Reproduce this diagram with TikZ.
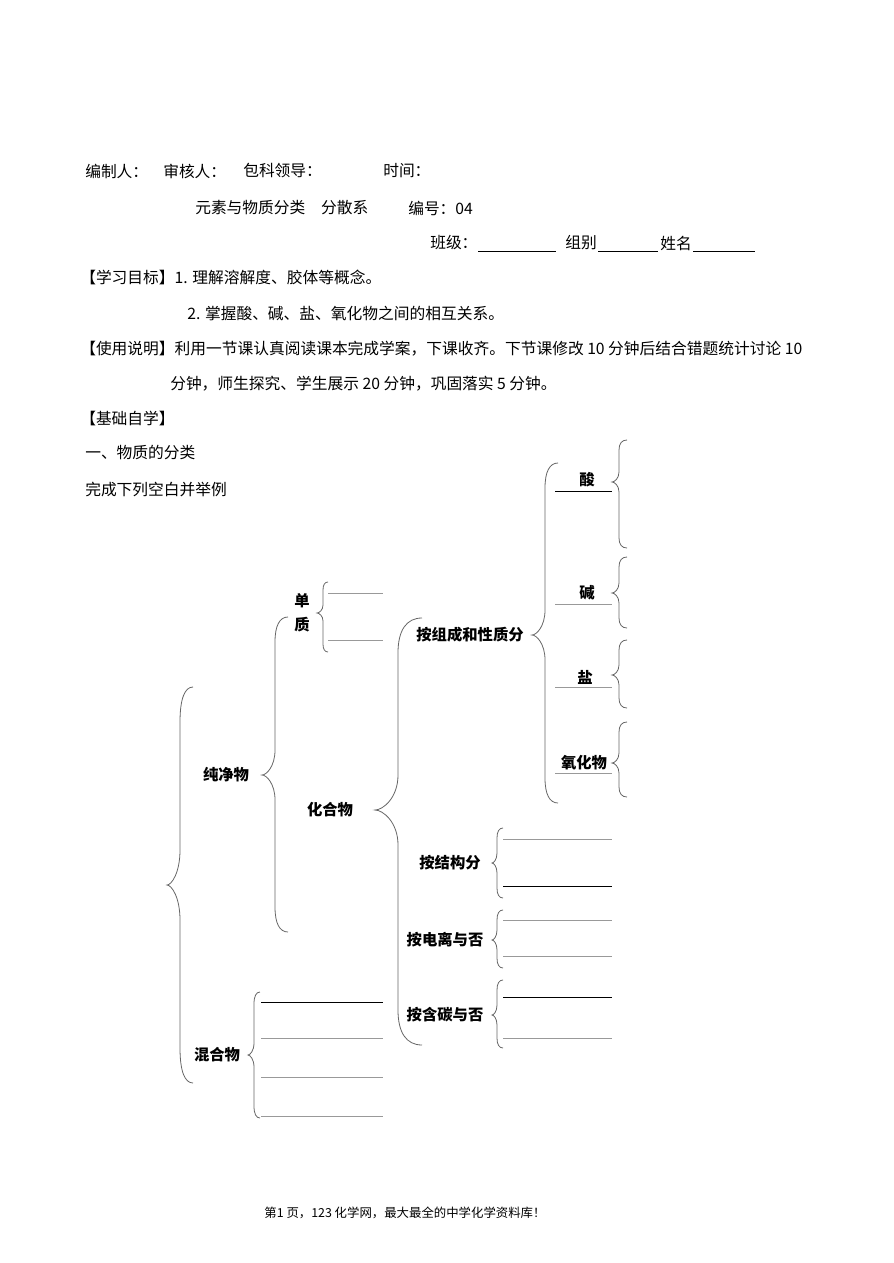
\documentclass[tikz,border=0pt]{standalone}
\usepackage{fontspec}
\setmainfont{Noto Sans CJK SC}
\newcommand\curlyb[7]{%
  \draw[brc] (#1,#4) .. controls ({#2+0.35*(#1-#2)},#4) and (#2,{#4+0.35*#7}) .. (#2,{#4+#7})
    -- (#2,{#5-#7}) .. controls (#2,{#5-0.35*#7}) and ({#3+0.35*(#2-#3)},#5) .. (#3,#5)
    .. controls ({#3+0.35*(#2-#3)},#5) and (#2,{#5+0.35*#7}) .. (#2,{#5+#7})
    -- (#2,{#6-#7}) .. controls (#2,{#6-0.35*#7}) and ({#2+0.35*(#1-#2)},#6) .. (#1,#6);}
\begin{document}
\begin{tikzpicture}[x=0.75pt,y=-0.75pt,
  txt/.style={anchor=west, inner sep=0pt, font=\fontsize{11.8pt}{14pt}\selectfont},
  lbl/.style={anchor=center, inner sep=0pt, font=\fontsize{11.5pt}{14pt}\selectfont\bfseries},
  foot/.style={anchor=center, inner sep=0pt, font=\fontsize{9.3pt}{11pt}\selectfont},
  brc/.style={draw=black!60, line width=0.6pt},
  blankk/.style={draw=black, line width=0.75pt},
  blankg/.style={draw=black!40, line width=0.75pt}]
\useasboundingbox[fill=white] (0,0) rectangle (893,1263);
% header
\node[txt] (h1) at (85,171) {编制人：};
\node[txt] (h2) at (163,171) {审核人：};
\node[txt] (h3) at (243,171) {包科领导：};
\node[txt] (h4) at (383,171) {时间：};
\node[txt] (t1) at (195,208) {元素与物质分类　分散系};
\node[txt] (t2) at (408,208) {编号：04};
\node[txt] (c1) at (430,243) {班级：};
\draw[blankk] (478,251) -- (556,251);
\node[txt] (c2) at (565,243) {组别};
\draw[blankk] (598,251) -- (658,251);
\node[txt] (c3) at (660,243) {姓名};
\draw[blankk] (693,251) -- (755,251);
\node[txt] (g1) at (80,277) {【学习目标】1. 理解溶解度、胶体等概念。};
\node[txt] (g2) at (187,313) {2. 掌握酸、碱、盐、氧化物之间的相互关系。};
\node[txt] (u1) at (80,349) {【使用说明】利用一节课认真阅读课本完成学案，下课收齐。下节课修改 10 分钟后结合错题统计讨论 10};
\node[txt] (u2) at (170,384) {分钟，师生探究、学生展示 20 分钟，巩固落实 5 分钟。};
\node[txt] (j1) at (80,418) {【基础自学】};
\node[txt] (j2) at (85,453) {一、物质的分类};
\node[txt] (j3) at (85,489) {完成下列空白并举例};
% braces
\curlyb{193}{180}{167}{687}{885}{1083}{35}
\curlyb{288}{275}{262}{617}{775}{932}{25}
\curlyb{328}{323}{317}{582}{613}{652}{8}
\curlyb{422}{398}{375}{618}{810}{1045}{35}
\curlyb{558}{545}{532}{463}{635}{803}{25}
\curlyb{627}{619}{612}{440}{482}{548}{10}
\curlyb{627}{619}{612}{557}{593}{628}{10}
\curlyb{627}{619}{612}{640}{675}{708}{10}
\curlyb{627}{619}{612}{722}{763}{797}{10}
\curlyb{503}{497}{492}{828}{863}{898}{10}
\curlyb{503}{497}{492}{910}{940}{968}{10}
\curlyb{503}{497}{492}{980}{1015}{1048}{10}
\curlyb{260}{254}{248}{992}{1055}{1118}{12}
% labels
\node[lbl] (chun) at (226,775) {纯净物};
\node[lbl, align=center, font=\fontsize{11.5pt}{18pt}\selectfont\bfseries] (dan) at (302,613) {单\\质};
\node[lbl] (hua) at (330,810) {化合物};
\node[lbl] (zu) at (470,635) {按组成和性质分};
\node[lbl] (suan) at (587,480) {酸};
\node[lbl] (jian) at (587,593) {碱};
\node[lbl] (yan) at (585,677) {盐};
\node[lbl] (yang) at (584,763) {氧化物};
\node[lbl] (jg) at (450,863) {按结构分};
\node[lbl] (dl) at (445,940) {按电离与否};
\node[lbl] (ht) at (445,1015) {按含碳与否};
\node[lbl] (hun) at (217,1055) {混合物};
% underlines of acid etc.
\draw[blankk] (555,491) -- (612,491);
\draw[blankg] (555,604) -- (612,604);
\draw[blankg] (555,687) -- (612,687);
\draw[blankg] (555,773) -- (612,773);
% blanks
\draw[blankg] (328,593) -- (383,593);
\draw[blankg] (328,640) -- (383,640);
\draw[blankg] (503,839) -- (612,839);
\draw[blankk] (503,886) -- (612,886);
\draw[blankg] (503,920) -- (612,920);
\draw[blankg] (503,956) -- (612,956);
\draw[blankk] (503,997) -- (612,997);
\draw[blankg] (503,1038) -- (612,1038);
\draw[blankk] (261,1002) -- (383,1002);
\draw[blankg] (261,1038) -- (383,1038);
\draw[blankg] (261,1077) -- (383,1077);
\draw[blankg] (261,1116) -- (383,1116);
% footer
\node[foot] (ft) at (405,1213) {第1 页，123 化学网，最大最全的中学化学资料库！};
\end{tikzpicture}
\end{document}
